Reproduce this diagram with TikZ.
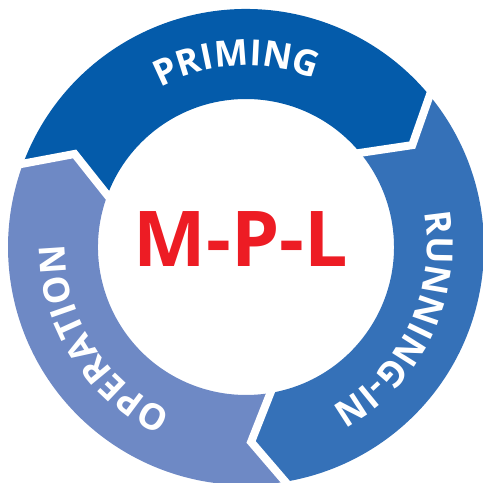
\documentclass[tikz,border=0pt]{standalone}
\usepackage{fontspec}
\newfontfamily\osfont{Open Sans}
\usetikzlibrary{decorations.text,calc}
\definecolor{primc}{RGB}{4,91,170}
\definecolor{runc}{RGB}{53,113,184}
\definecolor{operc}{RGB}{110,137,197}
\definecolor{mplred}{RGB}{237,28,36}
\newcommand\ringstyle{\osfont\bfseries\fontsize{36}{36}\selectfont}
\newcommand\ringseg[3]{%
  \fill[#3] (#1:238) arc[start angle=#1, end angle=#2, radius=238]
    -- ({#2-8}:195) -- (#2:148) arc[start angle=#2, end angle=#1, radius=148]
    -- ({#1-8}:195) -- cycle;}
\newcommand\ringgap[1]{%
  \draw[gapline] ($({#1-8}:195)!1.3!(#1:238)$) -- ({#1-8}:195)
    -- ($({#1-8}:195)!1.3!(#1:148)$);}
\tikzset{
  gapline/.style={white, line width=8pt, line join=miter, line cap=butt},
  ringtext/.style={decoration={text along path, text={#1}, text align=center, text color=white}, decorate}
}
\begin{document}
\begin{tikzpicture}[x=1pt,y=1pt]
\useasboundingbox (-246,-236) rectangle (237,247);
\ringseg{159.5}{39.5}{primc}
\ringseg{39.5}{-80.5}{runc}
\ringseg{-80.5}{-200.5}{operc}
\ringgap{159.5}
\ringgap{39.5}
\ringgap{-80.5}
\path[ringtext={|\ringstyle|PRIMING}] (153:181) arc[start angle=153, end angle=33, radius=181];
\path[ringtext={|\ringstyle|RUNNING-IN}] (45:181) arc[start angle=45, end angle=-96, radius=181];
\path[ringtext={|\ringstyle|OPERATION}] (282:181) arc[start angle=282, end angle=143, radius=181];
\node[text=mplred, inner sep=0pt, font=\osfont\bfseries\fontsize{77}{77}\selectfont] (mpl) at (-5,7.5) {M-P-L};
\end{tikzpicture}
\end{document}
